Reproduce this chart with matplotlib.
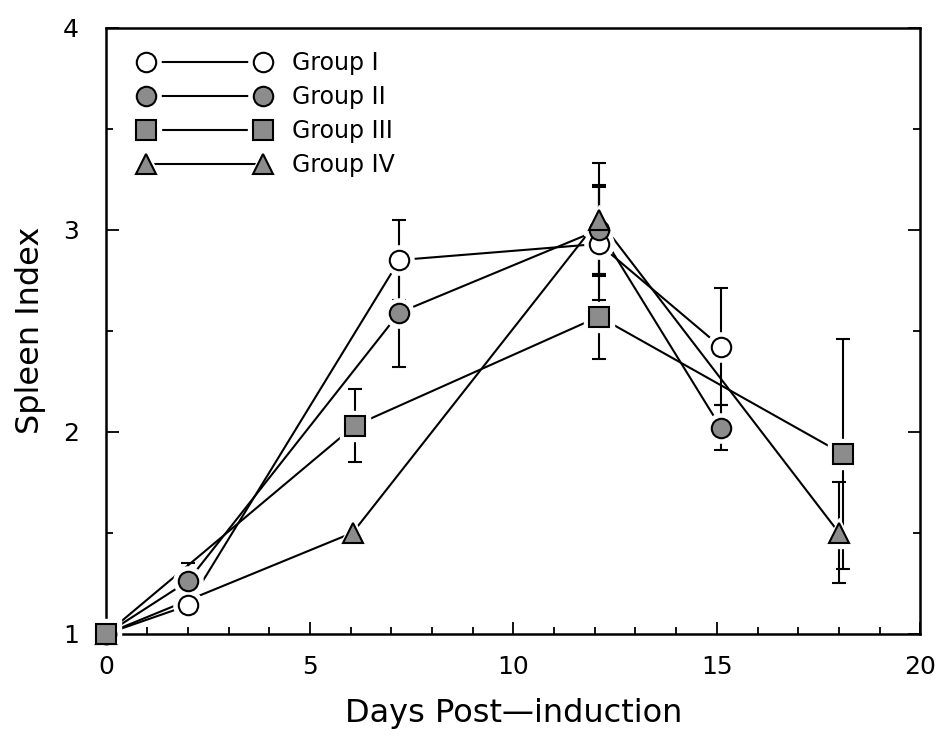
import matplotlib.pyplot as plt
from matplotlib.lines import Line2D
from matplotlib.legend_handler import HandlerTuple
from matplotlib.ticker import MultipleLocator

# Spleen index per group (mean +/- error) over days post-induction
days_g1 = [0, 2, 7.2, 12.1, 15.1]
spleen_g1 = [1.0, 1.14, 2.85, 2.93, 2.42]
err_g1 = [0, 0, 0.20, 0.28, 0.29]

days_g2 = [0, 2, 7.2, 12.1, 15.1]
spleen_g2 = [1.0, 1.26, 2.59, 3.0, 2.02]
err_g2 = [0, 0.09, 0.27, 0.22, 0.11]

days_g3 = [0, 6.1, 12.1, 18.1]
spleen_g3 = [1.0, 2.03, 2.57, 1.89]
err_g3 = [0, 0.18, 0.21, 0.57]

days_g4 = [0, 6.05, 12.1, 18.0]
spleen_g4 = [1.0, 1.5, 3.05, 1.5]
err_g4 = [0, 0, 0.28, 0.25]

labels = ["Group I", "Group II", "Group III", "Group IV"]

plt.rcParams['font.family'] = ['DejaVu Sans']

fig = plt.figure(figsize=(9.42, 7.5), dpi=100)
ax = fig.add_axes([0.113, 0.155, 0.864, 0.808])

gray = '#8c8c8c'
styles = [
    dict(marker='o', mfc='white', ms=14, z=4),
    dict(marker='o', mfc=gray, ms=14, z=4.1),
    dict(marker='s', mfc=gray, ms=14, z=4.3),
    dict(marker='^', mfc=gray, ms=14, z=4.2),
]
series = [
    (days_g1, spleen_g1, err_g1),
    (days_g2, spleen_g2, err_g2),
    (days_g3, spleen_g3, err_g3),
    (days_g4, spleen_g4, err_g4),
]

handles = []
for (x, y, e), st in zip(series, styles):
    # error bars and connecting line
    ax.errorbar(x, y, yerr=e, fmt='none', ecolor='black', elinewidth=1.5,
                capsize=5, capthick=1.5, zorder=2, clip_on=False)
    ax.plot(x, y, '-', color='black', lw=1.5, zorder=2, clip_on=False)
    # white halo leaves a small gap where lines meet the markers
    ax.plot(x, y, ls='none', marker=st['marker'], ms=st['ms'] + 7,
            mfc='white', mec='white', zorder=3, clip_on=False)
    ax.plot(x, y, ls='none', marker=st['marker'], ms=st['ms'],
            mfc=st['mfc'], mec='black', mew=1.5, zorder=st['z'], clip_on=False)

    h_line = Line2D([], [], color='black', lw=1.5)
    h_halo = Line2D([], [], ls='none', marker=st['marker'], ms=st['ms'] + 7,
                    mfc='white', mec='white')
    h_mark = Line2D([], [], ls='none', marker=st['marker'], ms=st['ms'],
                    mfc=st['mfc'], mec='black', mew=1.5)
    handles.append((h_line, h_halo, h_mark))

ax.set_xlim(0, 20)
ax.set_ylim(1, 4)
ax.xaxis.set_major_locator(MultipleLocator(5))
ax.xaxis.set_minor_locator(MultipleLocator(1))
ax.yaxis.set_major_locator(MultipleLocator(1))
ax.yaxis.set_minor_locator(MultipleLocator(0.5))
ax.tick_params(which='both', direction='in', right=True, top=False,
               width=1.3, labelsize=18, pad=15)
ax.tick_params(axis='y', pad=20)
ax.tick_params(which='major', length=9)
ax.tick_params(which='minor', length=5)
for sp in ax.spines.values():
    sp.set_linewidth(1.8)

ax.set_xlabel("Days Post\u2014induction", fontsize=23, labelpad=14)
ax.set_ylabel("Spleen Index", fontsize=23, labelpad=12)

ax.legend(handles, labels, handler_map={tuple: HandlerTuple(ndivide=1, pad=0)},
          loc='upper left', bbox_to_anchor=(0.040, 0.962), frameon=False,
          fontsize=17, numpoints=2, handlelength=5.56, handletextpad=0.9,
          labelspacing=0.43, borderaxespad=0, borderpad=0)

fig.savefig('out.png', dpi=100)
